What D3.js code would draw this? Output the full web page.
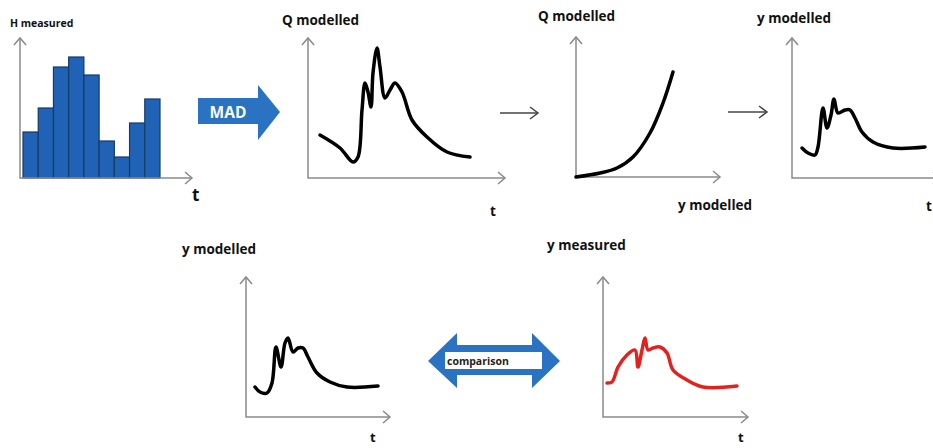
<!DOCTYPE html>
<html><head><meta charset="utf-8">
<script src="https://cdn.jsdelivr.net/npm/d3@7"></script>
<style>body{margin:0;background:#fff}svg{display:block}text{font-family:"Open Sans",sans-serif;font-weight:700}</style>
</head><body><svg id="c" width="933" height="448"></svg>
<script>
// ---- data ----
const histCategories = [1,2,3,4,5,6,7,8,9];
const histValues = [46,70,111,121,103,37,21,55,79];
const qModelledT = [12,32,45,50,54,57,60,63,65,69,72,77,82,87,94,104,119,139,162];
const qModelledV = [43,30,16,21,68,95,86,71,105,130,111,80,88,95,86,58,41,26,21];
const ratingY = [0,24,41,57,74,87,97];
const ratingQ = [0,4,9,20,44,74,105];
const yModelledT = [10,16,23,26,31,35,39,42,46,53,58,63,70,81,101,133];
const yModelledV = [30,25,23,31,70,50,63,79,65,68,68,60,46,36,30,31];
const yModelled2T = [9,14,21,26,30,35,39,42,47,52,57,62,71,84,101,132];
const yModelled2V = [30,25,24,34,70,50,74,79,65,69,69,60,44,35,30,31];
const yMeasuredT = [4,9,15,24,32,35,39,42,45,50,57,64,70,84,100,134];
const yMeasuredV = [34,35,50,62,67,50,67,79,67,69,70,64,47,37,30,31];

const svg = d3.select("#c");
const axisCol = "#8a8a8a";

function axes(ox, oy, top, right){
  const g = svg.append("g").attr("fill","none").attr("stroke",axisCol).attr("stroke-width",1.5);
  g.append("path").attr("d",`M${ox},${top}V${oy}H${right}`);
  g.append("path").attr("d",`M${ox-6},${top+7}L${ox},${top}L${ox+6},${top+7}`);
  g.append("path").attr("d",`M${right-7},${oy-6}L${right},${oy}L${right-7},${oy+6}`);
}
function label(x,y,t,size){
  svg.append("text").attr("x",x).attr("y",y).attr("font-size",size).attr("fill","#111").text(t);
}
function curve(ox, oy, w, h, ts, vs, color){
  const x = d3.scaleLinear().domain([0,w]).range([ox,ox+w]);
  const y = d3.scaleLinear().domain([0,h]).range([oy,oy-h]);
  const line = d3.line().x(d=>x(d[0])).y(d=>y(d[1])).curve(d3.curveCatmullRom.alpha(0.5));
  svg.append("path").attr("d",line(d3.zip(ts,vs))).attr("fill","none")
    .attr("stroke",color).attr("stroke-width",3.5).attr("stroke-linecap","round").attr("stroke-linejoin","round");
}
function thinArrow(x1,x2,y){
  const g = svg.append("g").attr("fill","none").attr("stroke","#444").attr("stroke-width",1.5);
  g.append("path").attr("d",`M${x1},${y}H${x2}`);
  g.append("path").attr("d",`M${x2-8},${y-6}L${x2},${y}L${x2-8},${y+6}`);
}

// ---- panel 1: histogram ----
{
  const x = d3.scaleBand().domain(histCategories).range([23,160]).padding(0);
  const y = d3.scaleLinear().domain([0,140]).range([178,38]);
  svg.append("g").selectAll("rect").data(histValues).join("rect")
    .attr("x",(d,i)=>x(histCategories[i])).attr("width",x.bandwidth())
    .attr("y",d=>y(d)).attr("height",d=>y(0)-y(d))
    .attr("fill","#2063b6").attr("stroke","#163a66").attr("stroke-width",1.2);
  axes(20,178,38,192);
  label(10,27,"H measured",10.5);
  label(192,201,"t",17);
}
// MAD arrow
{
  svg.append("path").attr("d","M198,98H258V85L280,112L258,140V124H198Z").attr("fill","#2a72c2");
  svg.append("text").attr("x",228).attr("y",117.5).attr("text-anchor","middle").attr("font-size",15.5)
    .attr("font-weight",600).attr("fill","#fff").text("MAD");
}
// ---- panel 2 ----
axes(308,178,38,505);
curve(308,178,200,140,qModelledT,qModelledV,"#000");
label(282,25,"Q modelled",13.5);
label(490,216,"t",13.5);
thinArrow(500,538,113);
// ---- panel 3 ----
axes(576,177,37,720);
curve(576,177,144,140,ratingY,ratingQ,"#000");
label(538,21,"Q modelled",13.5);
label(678,210,"y modelled",13.5);
thinArrow(728,767,112);
// ---- panel 4 ----
axes(792,178,38,940);
curve(792,178,141,140,yModelledT,yModelledV,"#000");
label(757,23,"y modelled",13.5);
label(926,211,"t",13.5);
// ---- panel 5 ----
axes(246,417,277,390);
curve(246,417,144,140,yModelled2T,yModelled2V,"#000");
label(182,254,"y modelled",13.5);
label(370,442,"t",13);
// comparison arrow
{
  svg.append("path").attr("d","M428,361L457,333V345H532V333L560,361L532,388V375H457V388Z").attr("fill","#2a72c2");
  svg.append("rect").attr("x",445).attr("y",352).attr("width",97).attr("height",17).attr("fill","#fff");
  svg.append("text").attr("x",447).attr("y",364.5).attr("font-size",10.5).attr("fill","#222").text("comparison");
}
// ---- panel 6 ----
axes(603,417,277,748);
curve(603,417,145,140,yMeasuredT,yMeasuredV,"#e5211d");
label(547,250,"y measured",13.5);
label(738,442,"t",13);
</script></body></html>
